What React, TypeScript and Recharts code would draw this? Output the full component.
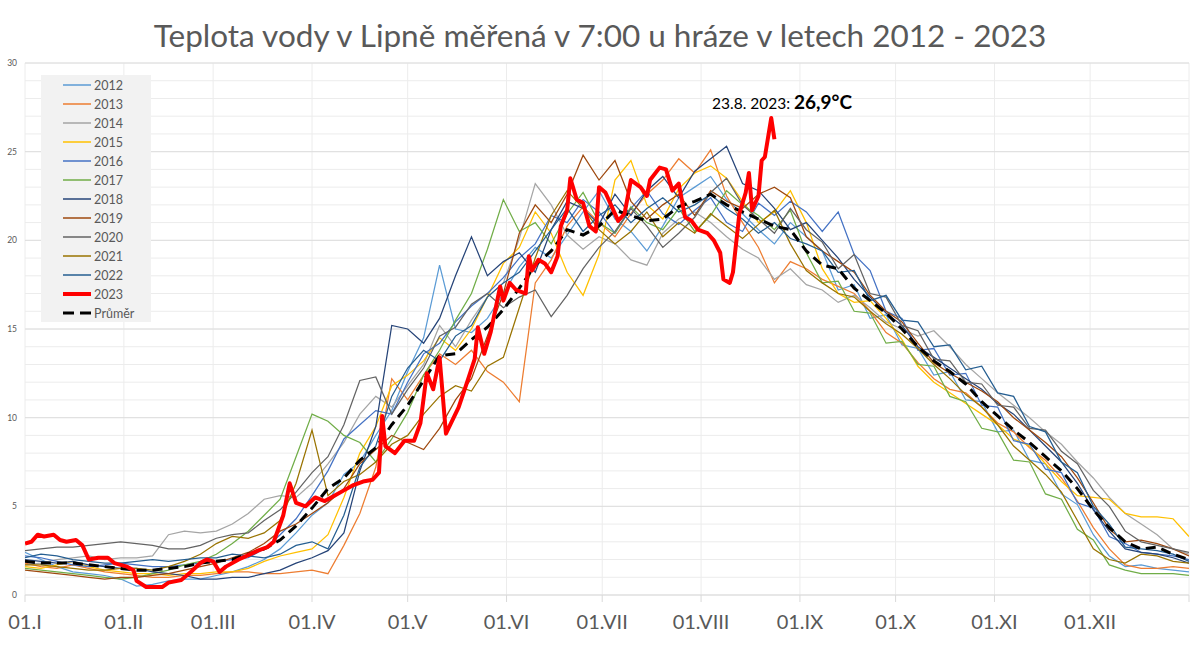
import React from 'react';
import { LineChart, Line, XAxis, YAxis, CartesianGrid, ReferenceLine } from 'recharts';

const FONT = 'Lato, "Open Sans", sans-serif';
const TEXT = '#595959';

const monthTicks = [0, 31, 59, 90, 120, 151, 181, 212, 243, 273, 304, 334, 365];
const monthLabels = ['01.I', '01.II', '01.III', '01.IV', '01.V', '01.VI', '01.VII', '01.VIII', '01.IX', '01.X', '01.XI', '01.XII', ''];
const yTicks = [0, 1, 2, 3, 4, 5, 6, 7, 8, 9, 10, 11, 12, 13, 14, 15, 16, 17, 18, 19, 20, 21, 22, 23, 24, 25, 26, 27, 28, 29, 30];
const yMajor = [5, 10, 15, 20, 25, 30];

const years = ['2012', '2013', '2014', '2015', '2016', '2017', '2018', '2019', '2020', '2021', '2022'];
const yearColors = ['#5B9BD5', '#ED7D31', '#A5A5A5', '#FFC000', '#4472C4', '#70AD47', '#264478', '#9E480E', '#636363', '#997300', '#255E91'];

const days5 = [0, 5, 10, 15, 20, 25, 30, 35, 40, 45, 50, 55, 60, 65, 70, 75, 80, 85, 90, 95, 100, 105, 110, 115, 120, 125, 130, 135, 140, 145, 150, 155, 160, 165, 170, 175, 180, 185, 190, 195, 200, 205, 210, 215, 220, 225, 230, 235, 240, 245, 250, 255, 260, 265, 270, 275, 280, 285, 290, 295, 300, 305, 310, 315, 320, 325, 330, 335, 340, 345, 350, 355, 360, 365];

const t2012 = [2.4,2.0,1.6,1.3,1.2,1.1,0.9,0.5,0.6,0.8, 0.9,0.9,1.1,1.3,1.6,2.0,2.6,3.5,4.5,5.2, 6.8,7.5,9.0,10.4,12.6,14.5,18.6,15.0,14.8,15.6, 17.0,18.5,19.6,19.0,20.3,21.6,22.8,21.2,20.5,19.4, 20.8,22.4,23.0,23.6,22.3,21.5,20.6,19.8,21.0,20.2, 19.4,17.2,17.5,15.6,15.8,14.1,13.9,12.4,12.6,11.0, 10.9,9.2,9.3,7.6,7.4,5.7,5.1,3.4,2.2,1.6, 1.7,1.5,1.4,1.3];
const t2013 = [1.8,1.6,1.5,1.7,1.5,1.3,1.2,1.1,1.0,1.0, 1.1,1.1,1.2,1.3,1.3,1.2,1.2,1.3,1.4,1.2, 2.8,4.6,7.2,12.2,11.0,12.4,13.6,13.0,13.8,12.6, 12.0,10.9,17.6,18.9,20.8,21.9,21.0,20.2,21.5,22.6, 23.4,24.6,23.8,25.1,22.5,21.0,19.6,17.6,18.8,18.4, 17.8,17.4,17.0,16.0,14.8,14.2,13.1,12.2,11.6,11.4, 10.6,9.7,9.2,8.3,7.6,6.6,5.3,3.8,2.6,1.7, 1.5,1.5,1.6,1.5];
const t2014 = [1.7,1.8,2.0,2.1,2.2,2.0,2.1,2.1,2.2,3.4, 3.6,3.5,3.6,4.0,4.6,5.4,5.6,5.5,6.3,7.4, 8.6,10.2,11.2,10.6,11.8,13.0,15.2,14.0,15.5,16.8, 17.6,20.1,23.2,22.0,20.3,19.5,20.2,19.8,18.9,18.6, 20.4,21.2,21.6,21.0,20.2,19.5,19.0,17.8,18.4,17.5, 17.2,16.5,16.9,16.2,15.4,15.0,14.6,14.9,14.0,13.0, 12.2,11.4,10.7,10.0,9.2,8.5,7.5,6.6,5.5,4.6, 4.0,3.4,2.6,2.3];
const t2015 = [1.6,1.5,1.7,1.9,1.6,1.4,1.3,1.2,1.2,1.1, 1.2,1.2,1.3,1.3,1.5,1.9,2.2,2.4,2.6,3.4, 5.5,8.0,9.5,11.8,12.4,13.2,14.5,13.8,15.0,16.8, 18.7,19.6,21.6,20.4,18.2,16.9,19.2,23.4,24.5,22.0, 21.2,22.9,23.8,24.2,23.5,22.2,21.0,21.6,22.8,21.0, 18.4,17.0,16.5,16.6,15.6,14.4,12.9,12.0,11.4,10.8, 10.2,9.6,8.8,8.4,7.4,6.4,5.6,5.5,5.4,4.6, 4.4,4.4,4.3,3.3];
const t2016 = [2.2,2.1,1.9,1.7,1.6,1.7,1.8,1.7,1.6,1.6, 1.7,1.8,1.9,2.0,2.1,2.6,3.4,4.3,5.6,7.0, 8.8,9.6,10.4,10.2,12.0,13.6,14.2,15.4,16.3,17.0, 17.9,19.0,19.8,21.4,21.0,22.3,21.6,20.4,21.8,22.8, 21.5,20.9,21.7,22.4,21.0,20.5,22.1,21.4,22.2,21.6, 20.5,21.6,19.2,18.3,16.0,15.6,13.8,13.9,12.4,12.5, 10.7,10.6,8.7,8.5,7.1,6.9,5.2,4.9,3.3,2.9, 2.4,2.3,2.2,2.0];
const t2017 = [1.5,1.4,1.3,1.2,1.1,1.0,0.9,1.0,1.2,1.4, 1.7,1.9,2.3,2.9,3.6,4.5,5.4,7.8,10.2,9.8, 9.0,8.6,7.5,8.8,10.3,12.4,13.8,15.5,17.0,19.5, 22.3,20.5,21.0,19.8,21.5,22.7,21.0,20.4,21.9,21.0, 20.6,21.8,20.5,21.4,22.8,22.0,21.4,20.6,21.7,19.3, 17.6,17.7,16.0,15.9,14.2,14.3,13.0,12.9,11.2,10.9, 9.4,9.2,7.6,7.5,5.7,5.4,3.7,3.1,1.7,1.4, 1.2,1.2,1.2,1.1];
const t2018 = [2.0,1.9,1.8,1.9,1.7,1.6,1.5,1.5,1.3,1.2, 1.1,0.9,0.9,1.0,1.0,1.2,1.4,1.8,2.1,2.5, 3.5,7.0,9.5,15.2,15.0,14.2,15.6,18.0,20.2,18.0, 18.8,19.3,18.2,20.6,22.2,21.8,20.9,22.6,21.4,22.8, 23.6,22.4,23.9,24.6,25.3,23.2,22.8,21.8,20.6,21.0, 20.0,19.0,17.8,16.8,15.9,15.2,14.0,13.4,12.8,12.2, 11.6,10.8,10.2,9.3,8.4,7.5,6.3,4.8,3.6,2.6, 2.4,2.3,2.1,1.8];
const t2019 = [1.4,1.3,1.2,1.1,1.0,0.9,1.0,1.0,1.1,1.2, 1.4,1.6,1.8,2.1,2.4,2.9,3.6,4.0,4.6,5.2, 6.0,7.4,8.2,9.0,8.6,8.2,9.4,11.0,12.2,14.6, 17.0,20.4,22.0,21.0,22.6,24.8,23.4,24.5,22.2,21.2, 22.0,22.6,21.4,22.8,22.2,21.8,22.6,23.0,22.4,20.2, 19.4,18.8,18.2,16.9,16.0,15.4,14.2,13.1,12.5,12.0, 11.5,10.9,10.0,9.3,8.6,7.8,6.6,5.2,3.7,3.0, 3.1,2.9,2.6,2.2];
const t2020 = [2.5,2.6,2.7,2.7,2.8,2.9,3.0,2.9,2.8,2.6, 2.6,2.8,3.2,3.4,3.5,4.2,4.8,5.8,6.9,7.8, 9.6,12.1,12.3,10.2,11.6,12.8,14.6,15.1,16.4,17.0, 16.2,16.8,17.2,15.7,16.9,18.4,19.6,20.5,21.8,20.8, 19.6,20.4,21.3,22.7,23.5,22.0,21.2,20.4,21.8,20.6, 19.9,18.4,19.2,17.0,16.8,15.2,14.9,13.3,13.2,12.0, 11.9,10.7,10.6,9.4,9.3,8.1,7.4,5.9,5.0,3.6, 3.0,2.8,2.6,2.4];
const t2021 = [1.7,1.7,1.6,1.5,1.4,1.4,1.5,1.5,1.4,1.6, 1.9,2.3,2.9,3.3,3.2,3.5,4.2,6.3,9.3,5.6, 6.4,6.8,7.5,8.5,9.0,10.2,11.2,11.8,11.5,12.9, 13.4,16.2,19.0,21.4,22.8,21.8,20.6,19.8,20.5,21.6, 20.2,21.0,20.4,21.5,20.8,20.1,20.9,21.7,19.8,18.3, 17.6,17.0,16.8,16.0,15.3,14.7,13.9,13.0,12.2,11.3, 10.6,9.6,8.4,7.6,6.8,5.8,4.2,2.6,2.0,1.8, 2.3,2.2,1.9,1.8];
const t2022 = [2.1,2.3,2.2,2.0,1.9,1.8,1.8,1.9,2.0,1.9, 2.0,2.1,2.1,2.3,2.2,2.1,2.3,2.8,3.0,2.6, 4.5,7.2,8.4,11.2,12.8,13.8,13.2,14.6,15.2,16.8, 17.6,18.2,19.4,20.6,21.8,20.5,21.4,22.0,21.0,21.8, 22.4,21.6,22.0,22.6,21.8,21.2,20.4,21.0,20.1,19.8, 19.4,18.2,18.3,16.6,16.9,15.5,15.4,14.0,14.1,12.7, 12.9,11.4,11.2,9.5,9.2,7.5,6.9,5.0,4.0,2.7, 2.6,2.5,2.3,1.9];
const tAvg = [1.9,1.8,1.8,1.8,1.7,1.6,1.5,1.4,1.4,1.5, 1.6,1.8,1.9,2.0,2.3,2.6,3.1,3.9,4.9,6.0, 6.6,7.6,8.3,9.6,10.7,12.1,13.5,13.6,14.4,15.1, 16.1,17.3,18.6,19.4,20.6,20.3,20.8,21.7,21.4,21.1, 21.2,21.9,22.2,22.6,22.0,21.6,21.2,20.8,20.6,19.4, 18.6,18.4,17.3,16.6,15.9,15.0,14.0,13.2,12.6,11.9, 10.9,10.1,9.3,8.6,7.8,7.0,6.0,4.8,3.8,3.0, 2.6,2.7,2.3,2.0];

const days2023 = [0,2,4,6,9,11,13,16,18,20, 23,26,28,32,34,35,38,43,45,49, 52,55,57,59,61,63,67,70,73,76, 78,81,83,85,88,91,94,97,100,103, 106,109,111,112,113,116,119,122,124,126, 128,130,132,136,139,141,142,144,146,149, 150,152,154,157,158,159,161,163,165,167, 168,170,171,173,175,177,179,180,182,184, 186,188,190,193,195,196,199,201,203,205, 207,209,211,214,216,218,219,221,222,224, 226,227,228,230,231,232,233,234,235];
const t2023 = [2.9,3.0,3.4,3.3,3.4,3.1,3.0,3.1,2.8,2.0, 2.1,2.1,1.8,1.6,1.4,0.8,0.45,0.45,0.7,0.85, 1.3,1.8,2.0,1.9,1.3,1.6,2.0,2.25,2.5,2.7, 3.0,4.5,6.3,5.2,5.0,5.5,5.3,5.6,5.9,6.2, 6.4,6.5,6.9,10.1,8.4,8.0,8.7,8.7,9.7,12.5, 11.6,13.4,9.1,10.6,12.2,13.3,15.1,13.6,14.8,17.4, 16.6,17.6,17.2,17.0,19.1,18.3,18.9,18.7,18.2,19.1, 20.8,21.7,23.5,22.3,22.1,20.8,20.5,23.0,22.7,21.9, 21.1,21.5,23.4,23.0,22.5,23.4,24.1,24.0,22.8,23.2, 21.3,21.1,20.6,20.4,20.0,19.3,17.8,17.6,18.2,21.5, 22.7,23.8,21.7,22.5,24.5,24.7,25.8,26.9,25.7];

const yearSeries = [t2012, t2013, t2014, t2015, t2016, t2017, t2018, t2019, t2020, t2021, t2022];

const tableData = days5.map((d, i) => {
  const row: Record<string, number> = { day: d, avg: tAvg[i] };
  years.forEach((y, k) => { row['y' + y] = yearSeries[k][i]; });
  return row;
});
const data2023 = days2023.map((d, i) => ({ day: d, v: t2023[i] }));

const legendItems = [
  ...years.map((y, k) => ({ name: y, color: yearColors[k], width: 1.5, dash: undefined as string | undefined })),
  { name: '2023', color: '#FF0000', width: 4, dash: undefined as string | undefined },
  { name: 'Průměr', color: '#000000', width: 3, dash: '11 6' },
];

export default function App() {
  return (
    <div style={{ position: 'absolute', left: 0, top: 0, width: 1200, height: 648, background: '#fff', fontFamily: FONT }}>
      <LineChart width={1200} height={648} data={tableData} margin={{ top: 63, right: 11, bottom: 13, left: 0 }}>
        <CartesianGrid stroke="#ececec" strokeWidth={1} />
        {yMajor.map((v) => (
          <ReferenceLine key={v} y={v} stroke="#dedede" strokeWidth={1} ifOverflow="extendDomain" />
        ))}
        <XAxis
          dataKey="day"
          type="number"
          domain={[0, 365]}
          ticks={monthTicks}
          interval={0}
          tickFormatter={(v: number) => monthLabels[monthTicks.indexOf(v)] ?? ''}
          tick={{ fill: TEXT, fontSize: 20, fontFamily: FONT }}
          tickLine={{ stroke: '#d9d9d9' }}
          tickSize={7}
          tickMargin={13}
          axisLine={{ stroke: '#d9d9d9' }}
          height={40}
          allowDataOverflow
        />
        <YAxis
          type="number"
          domain={[0, 30]}
          ticks={yTicks}
          interval={0}
          tickFormatter={(v: number) => (v % 5 === 0 ? String(v) : '')}
          tick={{ fill: TEXT, fontSize: 8.5, fontFamily: FONT }}
          tickLine={false}
          tickSize={0}
          tickMargin={8}
          axisLine={false}
          width={25}
        />
        {years.map((y, k) => (
          <Line
            key={y}
            dataKey={'y' + y}
            type="linear"
            stroke={yearColors[k]}
            strokeWidth={1.25}
            dot={false}
            activeDot={false}
            isAnimationActive={false}
          />
        ))}
        <Line dataKey="avg" type="linear" stroke="#000" strokeWidth={3} strokeDasharray="10 6" dot={false} activeDot={false} isAnimationActive={false} />
        <Line data={data2023} dataKey="v" type="linear" stroke="#FF0000" strokeWidth={4} strokeLinejoin="round" dot={false} activeDot={false} isAnimationActive={false} />
      </LineChart>

      <div style={{ position: 'absolute', left: 41, top: 75, width: 110, height: 247, background: '#f2f2f2' }}>
        <svg width={110} height={247}>
          {legendItems.map((it, i) => (
            <g key={it.name}>
              <line x1={22} x2={50} y1={10 + i * 19} y2={10 + i * 19} stroke={it.color} strokeWidth={it.width} strokeDasharray={it.dash} />
              <text x={53} y={10 + i * 19} dominantBaseline="central" fontSize={12.5} fill={TEXT} fontFamily={FONT}>{it.name}</text>
            </g>
          ))}
        </svg>
      </div>

      <svg width={1200} height={648} style={{ position: 'absolute', left: 0, top: 0, pointerEvents: 'none' }}>
        <text x={600} y={47} textAnchor="middle" fontSize={31.5} fill={TEXT} fontFamily={FONT}>
          Teplota vody v Lipně měřená v 7:00 u hráze v letech 2012 - 2023
        </text>
        <text x={712} y={109} fill="#000" fontFamily={FONT}>
          <tspan fontSize={15.5}>23.8. 2023: </tspan>
          <tspan fontSize={19} fontWeight="bold">26,9°C</tspan>
        </text>
      </svg>
    </div>
  );
}
